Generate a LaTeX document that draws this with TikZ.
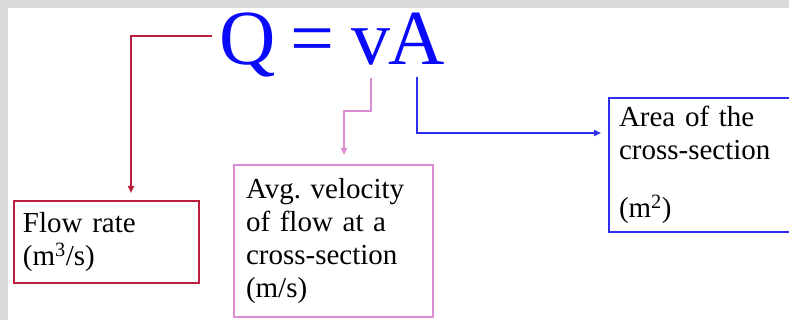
\documentclass[tikz,border=0pt]{standalone}
\usepackage{fontspec}
\setmainfont{Liberation Serif}
\frenchspacing
\usetikzlibrary{positioning, arrows.meta, calc}
\definecolor{EqBlue}{RGB}{10, 10, 250}
\definecolor{RateRed}{RGB}{185, 30, 60}
\definecolor{VelPink}{RGB}{220, 140, 210}
\definecolor{AreaBlue}{RGB}{45, 45, 235}
\definecolor{FrameGray}{RGB}{218, 218, 218}
\tikzset{
  symb/.style={inner sep=0pt, anchor=base, text=EqBlue, font=\fontsize{78}{78}\selectfont},
  lbl/.style={rectangle, line width=2pt, align=left, inner ysep=0pt, anchor=north west,
    font=\fontsize{29}{33}\selectfont},
  ratebox/.style={lbl, draw=RateRed, text width=167pt, inner xsep=9pt, minimum height=82pt},
  velbox/.style={lbl, draw=VelPink, text width=175pt, inner xsep=12pt, minimum height=152pt},
  areabox/.style={lbl, draw=AreaBlue, text width=200pt, inner xsep=10pt, minimum height=134pt},
  flow/.style={line width=2pt, -{Triangle[length=7pt, width=6pt]}},
}
\begin{document}
\begin{tikzpicture}[x=1pt, y=-1pt]
    \useasboundingbox (0,0) rectangle (789,320);
    \clip (0,0) rectangle (789,320);
    \fill[FrameGray] (0,0) rectangle (789,320);
    \fill[white] (8,8) rectangle (789,320);
    % equation
    \node[symb] (qsym) at (248,65) {Q};
    \node[symb] (eqsign) at (312,65) {=};
    \node[symb] (vsym) at (371,65) {v};
    \node[symb] (asym) at (417,65) {A};
    % boxes
    \node[ratebox] (rate) at (13,200) {Flow rate\\(m\textsuperscript{3}/s)};
    \node[velbox] (vel) at (233,164) {Avg. velocity\\of flow at a\\cross-section\\(m/s)};
    \node[areabox] (area) at (608,97) {Area of the\\cross-section\\[25pt](m\textsuperscript{2})};
    % bends
    \coordinate (redstart) at (212,36);
    \coordinate (redbend) at (131,36);
    \coordinate (pinkbend) at (344,111);
    \coordinate (bluebend) at (417,133);
    \draw[flow, RateRed, shorten >=7pt] (redstart) -- (redbend) -- (redbend |- rate.north);
    \draw[flow, VelPink, shorten <=12pt, shorten >=9pt] (vsym.south) |- (pinkbend) -- (pinkbend |- vel.north);
    \draw[flow, AreaBlue, shorten <=12pt, shorten >=7pt] (asym.south) -- (bluebend) -- (bluebend -| area.west);
\end{tikzpicture}
\end{document}
